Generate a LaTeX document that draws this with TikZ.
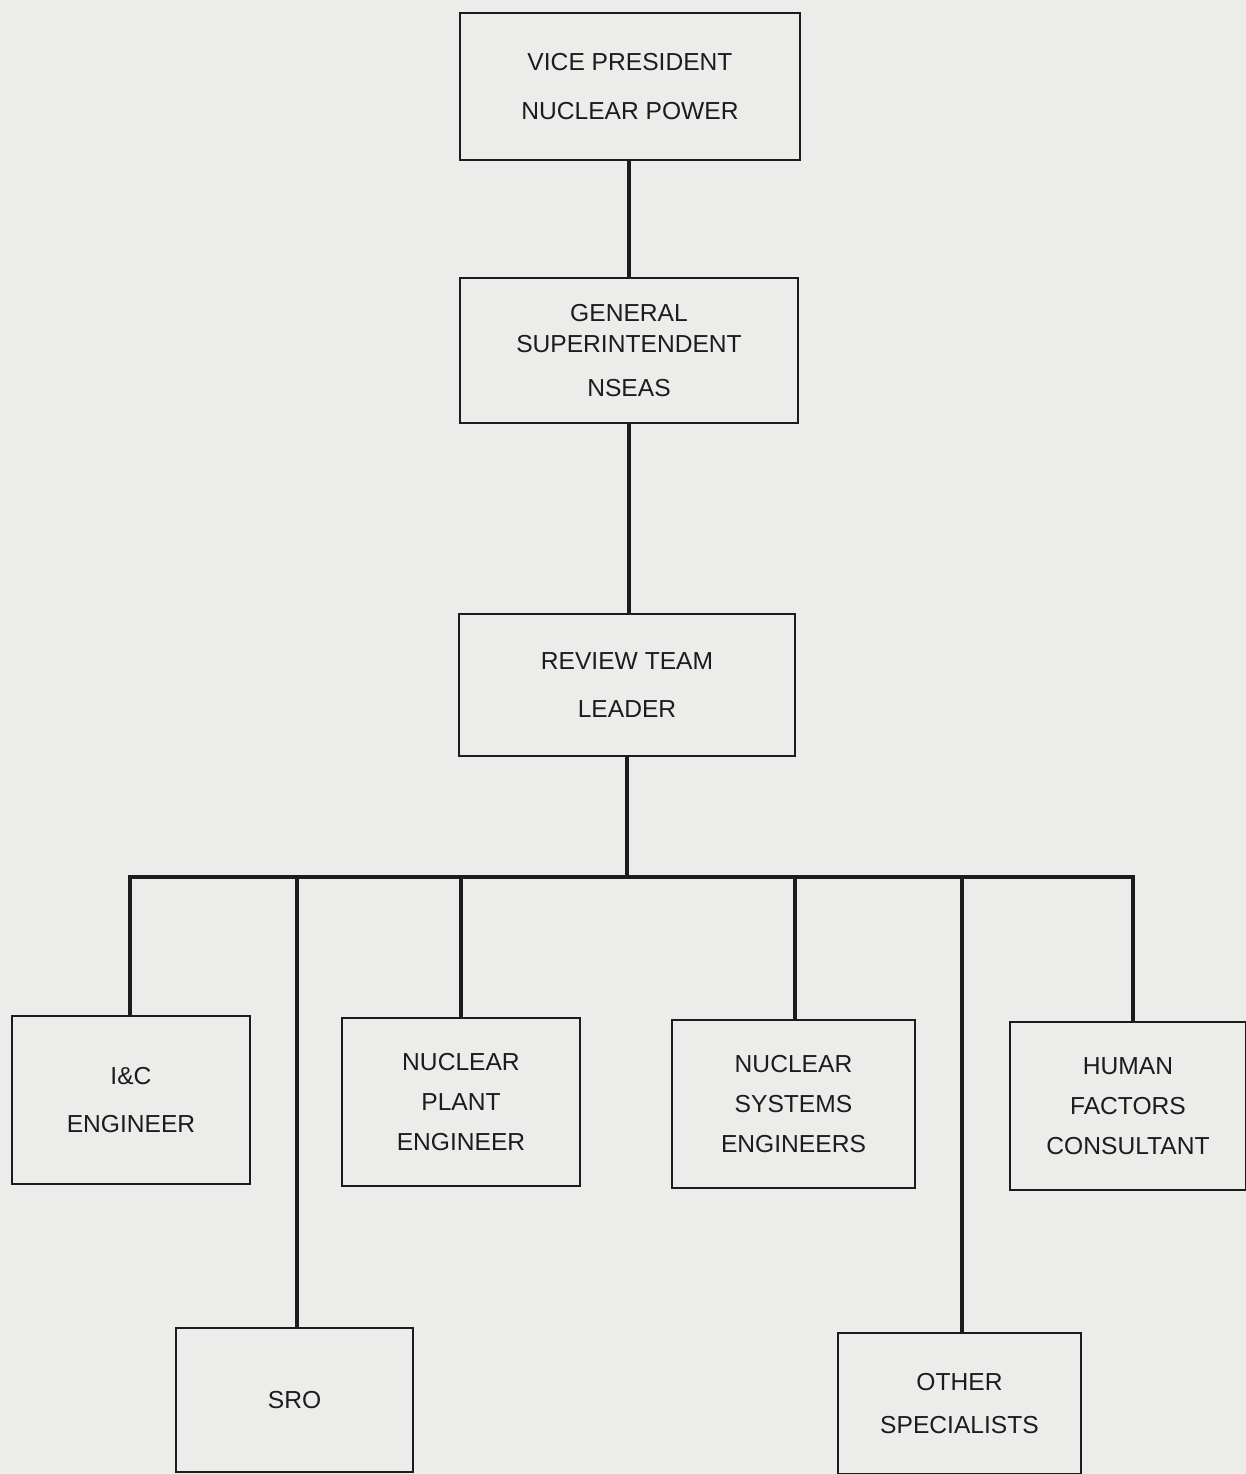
\documentclass[tikz,border=0pt]{standalone}
\usepackage{fontspec}
\setmainfont{Liberation Sans}
\definecolor{scan}{HTML}{ECECEA}
\definecolor{ink}{HTML}{1C1C1C}
\tikzset{
  orgbox/.style={draw=ink, line width=1.5pt, text=ink, align=center, inner sep=0pt,
    font=\fontsize{14}{22.8}\selectfont},
  link/.style={draw=ink, line width=2.6pt}
}
\begin{document}
\begin{tikzpicture}[x=0.02cm, y=-0.02cm]
				% 1. page
				\fill[scan] (0,0) rectangle (1246,1474);
				\useasboundingbox (0,0) rectangle (1246,1474);
				
				% 2. top of the chain
				\node[orgbox, minimum width=6.8cm, minimum height=2.94cm] (vp) at (630,86.5) {VICE PRESIDENT\\[5pt]NUCLEAR POWER};
				\node[orgbox, minimum width=6.76cm, minimum height=2.9cm] (gs) at (629,350.5) {GENERAL\\[-5pt]SUPERINTENDENT\\[2pt]NSEAS};
				\node[orgbox, minimum width=6.72cm, minimum height=2.84cm] (rtl) at (627,685) {REVIEW TEAM\\[5pt]LEADER};
				
				% 3. team members
				\node[orgbox, minimum width=4.76cm, minimum height=3.36cm] (ic) at (131,1100) {I\&C\\[4pt]ENGINEER};
				\node[orgbox, minimum width=4.76cm, minimum height=3.36cm] (npe) at (461,1102) {NUCLEAR\\PLANT\\ENGINEER};
				\node[orgbox, minimum width=4.86cm, minimum height=3.36cm] (nse) at (793.5,1104) {NUCLEAR\\SYSTEMS\\ENGINEERS};
				\node[orgbox, minimum width=4.72cm, minimum height=3.36cm] (hfc) at (1128,1106) {HUMAN\\FACTORS\\CONSULTANT};
				\node[orgbox, minimum width=4.74cm, minimum height=2.88cm] (sro) at (294.5,1400) {SRO};
				\node[orgbox, minimum width=4.86cm, minimum height=2.82cm] (oth) at (959.5,1403.5) {OTHER\\[2pt]SPECIALISTS};
				
				% 4. connectors
				\coordinate (busL) at (130,877);
				\coordinate (busR) at (1133,877);
				\draw[link] (gs.north |- vp.south) -- (gs.north);
				\draw[link] (gs.south) -- (gs.south |- rtl.north);
				\draw[link] (rtl.south) -- (rtl.south |- busL);
				\draw[link, line cap=rect] (busL) -- (busR);
				\draw[link] (busL) -- (ic.north -| busL);
				\draw[link] (297,877) -- (sro.north -| 297,0);
				\draw[link] (npe.north |- busL) -- (npe.north);
				\draw[link] (795,877) -- (nse.north -| 795,0);
				\draw[link] (962,877) -- (oth.north -| 962,0);
				\draw[link] (busR) -- (hfc.north -| busR);
\end{tikzpicture}
\end{document}
